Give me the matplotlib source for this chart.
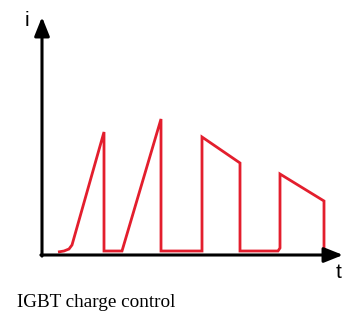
import matplotlib
matplotlib.use("Agg")
import matplotlib.pyplot as plt

# waveform vertices (time, current) in chart units
t_vals = [16, 22, 27, 30, 62, 62, 80, 119, 119, 160, 160, 198, 198, 236, 238, 238, 282, 282]
i_vals = [3, 4, 6, 10, 123, 4, 4, 136, 4, 4, 118, 92, 4, 4, 7, 81, 54, 4]

axis_labels = ["i", "t"]
caption = "IGBT charge control"

fig = plt.figure(figsize=(3.44, 3.13), dpi=100)
ax = fig.add_axes([0, 0, 1, 1])
ax.set_xlim(-42, 302)
ax.set_ylim(-58, 255)
ax.axis("off")

red = "#E31E2D"
ax.plot(t_vals, i_vals, color=red, lw=2.0, solid_joinstyle="miter", solid_capstyle="butt", zorder=2)

arrow = dict(arrowstyle="-|>,head_length=0.95,head_width=0.38", lw=2.2, color="black",
             shrinkA=0, shrinkB=0, mutation_scale=12)
ax.annotate("", xy=(0, 238), xytext=(0, -1.1), arrowprops=arrow, zorder=3)
ax.annotate("", xy=(301, 0), xytext=(-1.1, 0), arrowprops=arrow, zorder=3)

ax.text(-15, 234, axis_labels[0], fontsize=15, family="Liberation Sans", ha="center", va="center")
ax.text(297, -18, axis_labels[1], fontsize=15, family="Liberation Sans", ha="center", va="center")
ax.text(-25, -52, caption, fontsize=13.8, family="Liberation Serif", ha="left", va="baseline")

fig.savefig("out.png", dpi=100)
